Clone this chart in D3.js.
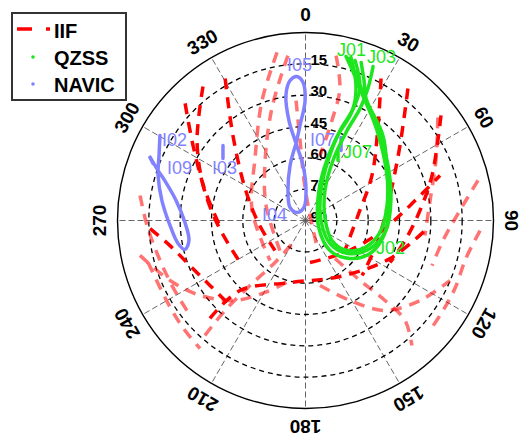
<!DOCTYPE html>
<html>
<head>
<meta charset="utf-8">
<script src="https://cdn.jsdelivr.net/npm/d3@7"></script>
<style>
  html, body { margin: 0; padding: 0; background: #fff; }
  svg { display: block; font-family: Arial, "Liberation Sans", sans-serif; }
</style>
</head>
<body>
<svg id="chart" width="524" height="444"></svg>
<script>
// Ticks
const azTicks = [0, 30, 60, 90, 120, 150, 180, 210, 240, 270, 300, 330];
const elRings = [15, 30, 45, 60, 75];
const elLabels = [15, 30, 45, 60, 75, 90];
const legendNames = ['IIF', 'QZSS', 'NAVIC'];

// IIF tracks, [azimuth, elevation] in degrees (two groups)
const iifTracksA = [
  [[330.5, 11.9], [319.5, 36.5], [297.9, 57.3], [267.6, 67.3], [225.5, 69.5]],
  [[322.6, 9.2], [306.4, 25.5], [288.9, 38.2], [266.7, 48.1], [237.3, 52.8]],
  [[314.2, 9.6], [303.7, 25.3], [286.6, 39.8], [263.2, 49.7]],
  [[28, 13], [37.4, 32.8], [55.9, 51.6], [84.6, 64.8], [127.2, 66.3]],
  [[37.8, 10], [51.6, 32.3], [73.5, 47.8], [105.4, 54], [134.2, 52.2]],
  [[52.2, 7.9], [70.4, 25.7], [85, 35], [101.4, 41.4], [116.4, 44.8]],
  [[224.3, 24.5], [223.1, 44.1], [194, 59.4], [148.4, 58.5], [114.2, 45.6], [94.8, 32.6]],
  [[267, 15.5], [259.5, 24], [248.7, 30.6], [235.8, 34.7], [221.6, 35.6]],
  [[173.9, 69.8], [129, 65.7], [99.1, 53.9], [81.8, 39.4], [71.5, 22.1]]
];
const iifTracksB = [
  [[350.4, 8.4], [340.1, 28.9], [321.3, 51.4], [280.6, 64], [221.6, 64.4]],
  [[353.9, 10.6], [343.5, 33.6], [324.6, 56.5], [290.8, 69.8], [220.4, 71.1]],
  [[278.6, 9.9], [268.2, 14.1], [256.7, 17.4], [244, 18.9], [230.6, 18.4]],
  [[355.5, 32.4], [356.1, 51.6], [357.9, 70.9], [42, 86.8], [157.4, 74.4]],
  [[10.5, 9.7], [14.6, 24.7], [14.8, 40.5], [12.6, 58.1]],
  [[76.9, 5.2], [87.4, 16.9], [98.3, 23.5], [109.6, 25.7]],
  [[52.1, 9.7], [65.3, 21.3], [80.9, 29.6], [97.2, 32.4]],
  [[93.3, 6.3], [103.3, 11.1], [114.5, 11.4], [123.2, 11.3], [131.5, 10.5]],
  [[258.1, 9], [246.1, 19.1], [234.6, 28.1], [221.4, 39], [209.4, 50.5], [194.5, 60.3]],
  [[255.1, 12], [245.3, 13.3], [236, 12.9], [227.6, 11.9], [219.5, 10.6]],
  [[221.2, 16.9], [221.8, 32.2], [220.5, 49.1], [216, 65.2], [207.7, 79.2]],
  [[142.2, 67], [137.7, 51.2], [135.2, 36], [135.1, 22.5], [139.6, 11.4]],
  [[167.4, 58.1], [150.9, 46.2], [138.5, 32.5], [124.9, 23.1], [112.6, 15.1]]
];

// QZSS tracks
const qzssTracks = [
  [[13.9, 9.1], [19.6, 17.9], [25.6, 25.2], [38.9, 34.7], [56.3, 42.5], [76.8, 48], [97.1, 51.2],
   [113.5, 56.3], [127.8, 64.2], [133.2, 73.9], [90, 82.6], [27.3, 73.8], [20.6, 59.3], [21, 43.9],
   [23, 31.7], [20.5, 21], [15.6, 9]],
  [[15, 9.7], [20.6, 18.4], [26.8, 25.7], [39.8, 35.8], [57.1, 44.1], [79.8, 49.4], [100.8, 51.8],
   [117.1, 55.3], [130.5, 62], [140.8, 71.5], [120.7, 82.5], [29.6, 77.9], [19.6, 63.6], [20.4, 48.1],
   [23, 35.4], [22.4, 21.6], [17.2, 9.8]],
  [[19.4, 9.8], [22.7, 17.4], [26.4, 24.8], [42.4, 35], [58.5, 44.2], [79.6, 50.3], [99.1, 53.9],
   [114.4, 58.7], [125.9, 65.5], [127, 74.1], [84.1, 80.6], [33, 72.9], [24.6, 58.4], [24.8, 42.6],
   [26, 30.4], [25.3, 20.1], [23.7, 9.5]],
  [[24.9, 53], [28.4, 57.3]]
];
const qzssNames = ['J01', 'J02', 'J03', 'J07'];
const qzssLabelPos = [[10.8, 9.6], [115.7, 52.5], [21.3, 8.9], [30.8, 54.9]];

// NAVIC tracks
const navicTracks = [
  [[353, 52.9], [356.7, 44.4], [359.8, 32.6], [359, 23.9], [356.6, 20.9], [353.7, 22.6], [351.1, 29.4],
   [350.6, 41.5], [353, 52.9], [357.4, 63.6], [1, 75.6], [353.4, 83.7], [313.3, 84.4], [310, 80.3],
   [329.7, 73.4], [344.3, 62.7], [353, 52.9]],
  [[300.3, 9.3], [293.9, 13.3], [287, 16.2], [277.9, 20.6], [267.9, 25.1], [259.8, 28], [256.5, 30.7],
   [260.3, 33.4], [269, 32.3], [278.8, 27.3], [285.2, 20.8], [288.7, 15.5], [292.1, 9.7]],
  [[292.1, 9.7], [290.5, 12.1]],
  [[312.3, 36.6], [306.9, 40.6]],
  [[23.2, 46.8], [26.9, 52.4]]
];
const navicNames = ['I05', 'I02', 'I09', 'I03', 'I07', 'I04'];
const navicLabelPos = [[353, 17.7], [297.3, 12.7], [288.7, 20], [296.2, 40.1], [3.5, 54.5], [268.7, 69.2]];

const colors = { iif: '#ff0000', qzss: '#1ee61e', navic: '#8282ff' };

const svg = d3.select('#chart');
const cx = 305.5, cy = 220.5, R = 188;

const rScale = d3.scaleLinear().domain([90, 0]).range([0, R]);

function project(az, el) {
  const a = az * Math.PI / 180;
  const r = rScale(el);
  return [cx + r * Math.sin(a), cy - r * Math.cos(a)];
}

const trackLine = d3.line()
  .x(d => project(d[0], d[1])[0])
  .y(d => project(d[0], d[1])[1])
  .curve(d3.curveCatmullRom.alpha(0.5));

// Grid: spokes and rings
const grid = svg.append('g');

grid.selectAll('.spoke')
  .data(azTicks)
  .enter()
  .append('line')
  .attr('x1', cx)
  .attr('y1', cy)
  .attr('x2', d => project(d, 0)[0])
  .attr('y2', d => project(d, 0)[1])
  .attr('stroke', '#555')
  .attr('stroke-width', 0.9)
  .attr('stroke-dasharray', '6,3');

grid.selectAll('.ring')
  .data(elRings)
  .enter()
  .append('circle')
  .attr('cx', cx)
  .attr('cy', cy)
  .attr('r', d => rScale(d))
  .attr('fill', 'none')
  .attr('stroke', '#000')
  .attr('stroke-width', 1.3)
  .attr('stroke-dasharray', '5,4');

grid.append('circle')
  .attr('cx', cx)
  .attr('cy', cy)
  .attr('r', R)
  .attr('fill', 'none')
  .attr('stroke', '#000')
  .attr('stroke-width', 1.4);

// Azimuth labels, rotated with the angle
grid.selectAll('.az-label')
  .data(azTicks)
  .enter()
  .append('text')
  .attr('transform', d => {
    const p = project(d, 0);
    const a = d * Math.PI / 180;
    const x = cx + (R + 18) * Math.sin(a);
    const y = cy - (R + 18) * Math.cos(a);
    return `translate(${x},${y}) rotate(${d})`;
  })
  .attr('text-anchor', 'middle')
  .attr('dominant-baseline', 'central')
  .attr('font-size', 19)
  .attr('font-weight', 'bold')
  .text(d => d);

// Elevation labels along the 0 spoke
grid.selectAll('.el-label')
  .data(elLabels)
  .enter()
  .append('text')
  .attr('x', cx + 5)
  .attr('y', d => cy - rScale(d) + 1)
  .attr('font-size', 15)
  .attr('font-weight', 'bold')
  .text(d => d);

// IIF tracks
const tracks = svg.append('g');

tracks.selectAll('.iif-b')
  .data(iifTracksB)
  .enter()
  .append('path')
  .attr('d', trackLine)
  .attr('fill', 'none')
  .attr('stroke', colors.iif)
  .attr('stroke-opacity', 0.55)
  .attr('stroke-width', 3.5)
  .attr('stroke-dasharray', '11,8');

tracks.selectAll('.iif-a')
  .data(iifTracksA)
  .enter()
  .append('path')
  .attr('d', trackLine)
  .attr('fill', 'none')
  .attr('stroke', colors.iif)
  .attr('stroke-width', 3.5)
  .attr('stroke-dasharray', '11,8');

tracks.selectAll('.navic')
  .data(navicTracks)
  .enter()
  .append('path')
  .attr('d', trackLine)
  .attr('fill', 'none')
  .attr('stroke', colors.navic)
  .attr('stroke-width', 3.5)
  .attr('stroke-linecap', 'round');

tracks.selectAll('.qzss')
  .data(qzssTracks)
  .enter()
  .append('path')
  .attr('d', trackLine)
  .attr('fill', 'none')
  .attr('stroke', colors.qzss)
  .attr('stroke-width', 3.5)
  .attr('stroke-linecap', 'round');

// Satellite names
const labels = svg.append('g').attr('font-size', 18);

labels.selectAll('.navic-label')
  .data(navicNames)
  .enter()
  .append('text')
  .attr('x', (d, i) => project(navicLabelPos[i][0], navicLabelPos[i][1])[0])
  .attr('y', (d, i) => project(navicLabelPos[i][0], navicLabelPos[i][1])[1])
  .attr('fill', colors.navic)
  .text(d => d);

labels.selectAll('.qzss-label')
  .data(qzssNames)
  .enter()
  .append('text')
  .attr('x', (d, i) => project(qzssLabelPos[i][0], qzssLabelPos[i][1])[0])
  .attr('y', (d, i) => project(qzssLabelPos[i][0], qzssLabelPos[i][1])[1])
  .attr('fill', colors.qzss)
  .text(d => d);

// Legend
const legend = svg.append('g');

legend.append('rect')
  .attr('x', 12)
  .attr('y', 13)
  .attr('width', 114)
  .attr('height', 87)
  .attr('fill', '#fff')
  .attr('stroke', '#333')
  .attr('stroke-width', 2);

legend.append('line')
  .attr('x1', 17)
  .attr('x2', 50)
  .attr('y1', 29)
  .attr('y2', 29)
  .attr('stroke', colors.iif)
  .attr('stroke-width', 3.5)
  .attr('stroke-dasharray', '15,14');

legend.append('circle').attr('cx', 33).attr('cy', 57).attr('r', 1.8).attr('fill', colors.qzss);
legend.append('circle').attr('cx', 33).attr('cy', 84).attr('r', 1.8).attr('fill', colors.navic);

legend.selectAll('.legend-text')
  .data(legendNames)
  .enter()
  .append('text')
  .attr('x', 54)
  .attr('y', (d, i) => 38 + i * 27)
  .attr('font-size', 20)
  .attr('font-weight', 'bold')
  .text(d => d);
</script>
</body>
</html>
